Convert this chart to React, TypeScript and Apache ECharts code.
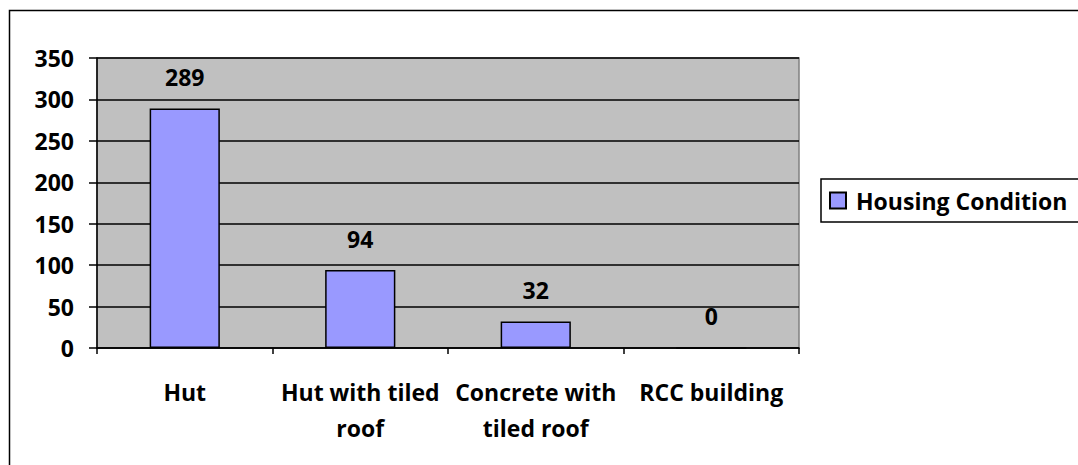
import React, { useEffect, useRef } from "react";
import * as echarts from "echarts";

const categories = ["Hut", "Hut with tiled\nroof", "Concrete with\ntiled roof", "RCC building"];
const values = [289, 94, 32, 0];
const seriesName = "Housing Condition";
const yMin = 0;
const yMax = 350;
const yInterval = 50;

const FONT = "Open Sans";
const FS = 23;

export default function App() {
  const ref = useRef<HTMLDivElement>(null);
  useEffect(() => {
    const chart = echarts.init(ref.current!, null, { renderer: "svg" });
    chart.setOption({
      animation: false,
      backgroundColor: "#ffffff",
      textStyle: { fontFamily: FONT },
      grid: {
        left: 97,
        top: 58,
        right: 279,
        bottom: 117,
        show: true,
        backgroundColor: "#C0C0C0",
        borderColor: "#808080",
        borderWidth: 1.5,
      },
      legend: {
        left: 821,
        top: 179,
        orient: "vertical",
        data: [seriesName],
        icon: "rect",
        itemWidth: 16,
        itemHeight: 16,
        itemGap: 6,
        padding: [10, 40, 10, 8],
        borderColor: "#000",
        borderWidth: 1.5,
        textStyle: {
          fontFamily: FONT,
          fontWeight: "bold",
          fontSize: FS,
          color: "#000",
          padding: [0, 0, 0, 5],
        },
      },
      xAxis: {
        type: "category",
        data: categories,
        axisLine: { lineStyle: { color: "#000", width: 1.5 } },
        axisTick: { show: true, alignWithLabel: false, length: 6, lineStyle: { color: "#000", width: 1.5 } },
        axisLabel: {
          color: "#000",
          fontFamily: FONT,
          fontWeight: "bold",
          fontSize: FS,
          lineHeight: 36,
          margin: 26,
          interval: 0,
        },
      },
      yAxis: {
        type: "value",
        min: yMin,
        max: yMax,
        interval: yInterval,
        axisLine: { show: true, lineStyle: { color: "#000", width: 1.5 } },
        axisTick: { show: true, length: 8, lineStyle: { color: "#000", width: 1.5 } },
        axisLabel: {
          color: "#000",
          fontFamily: FONT,
          fontWeight: "bold",
          fontSize: FS,
          margin: 23,
        },
        splitLine: { show: true, lineStyle: { color: "#000", width: 1.5 } },
      },
      series: [
        {
          name: seriesName,
          type: "bar",
          data: values,
          barWidth: "40%",
          itemStyle: { color: "#9999FF", borderColor: "#000", borderWidth: 1.5 },
          label: {
            show: true,
            position: "top",
            distance: 20,
            color: "#000",
            fontFamily: FONT,
            fontWeight: "bold",
            fontSize: FS,
          },
        },
      ],
      graphic: [
        {
          type: "rect",
          shape: { x: 9.5, y: 10.5, width: 1200, height: 600 },
          style: { fill: "none", stroke: "#000", lineWidth: 1.5 },
          silent: true,
          z: 100,
        },
      ],
    });
    return () => chart.dispose();
  }, []);
  return <div ref={ref} style={{ position: "absolute", left: 0, top: 0, width: 1078, height: 465 }} />;
}
